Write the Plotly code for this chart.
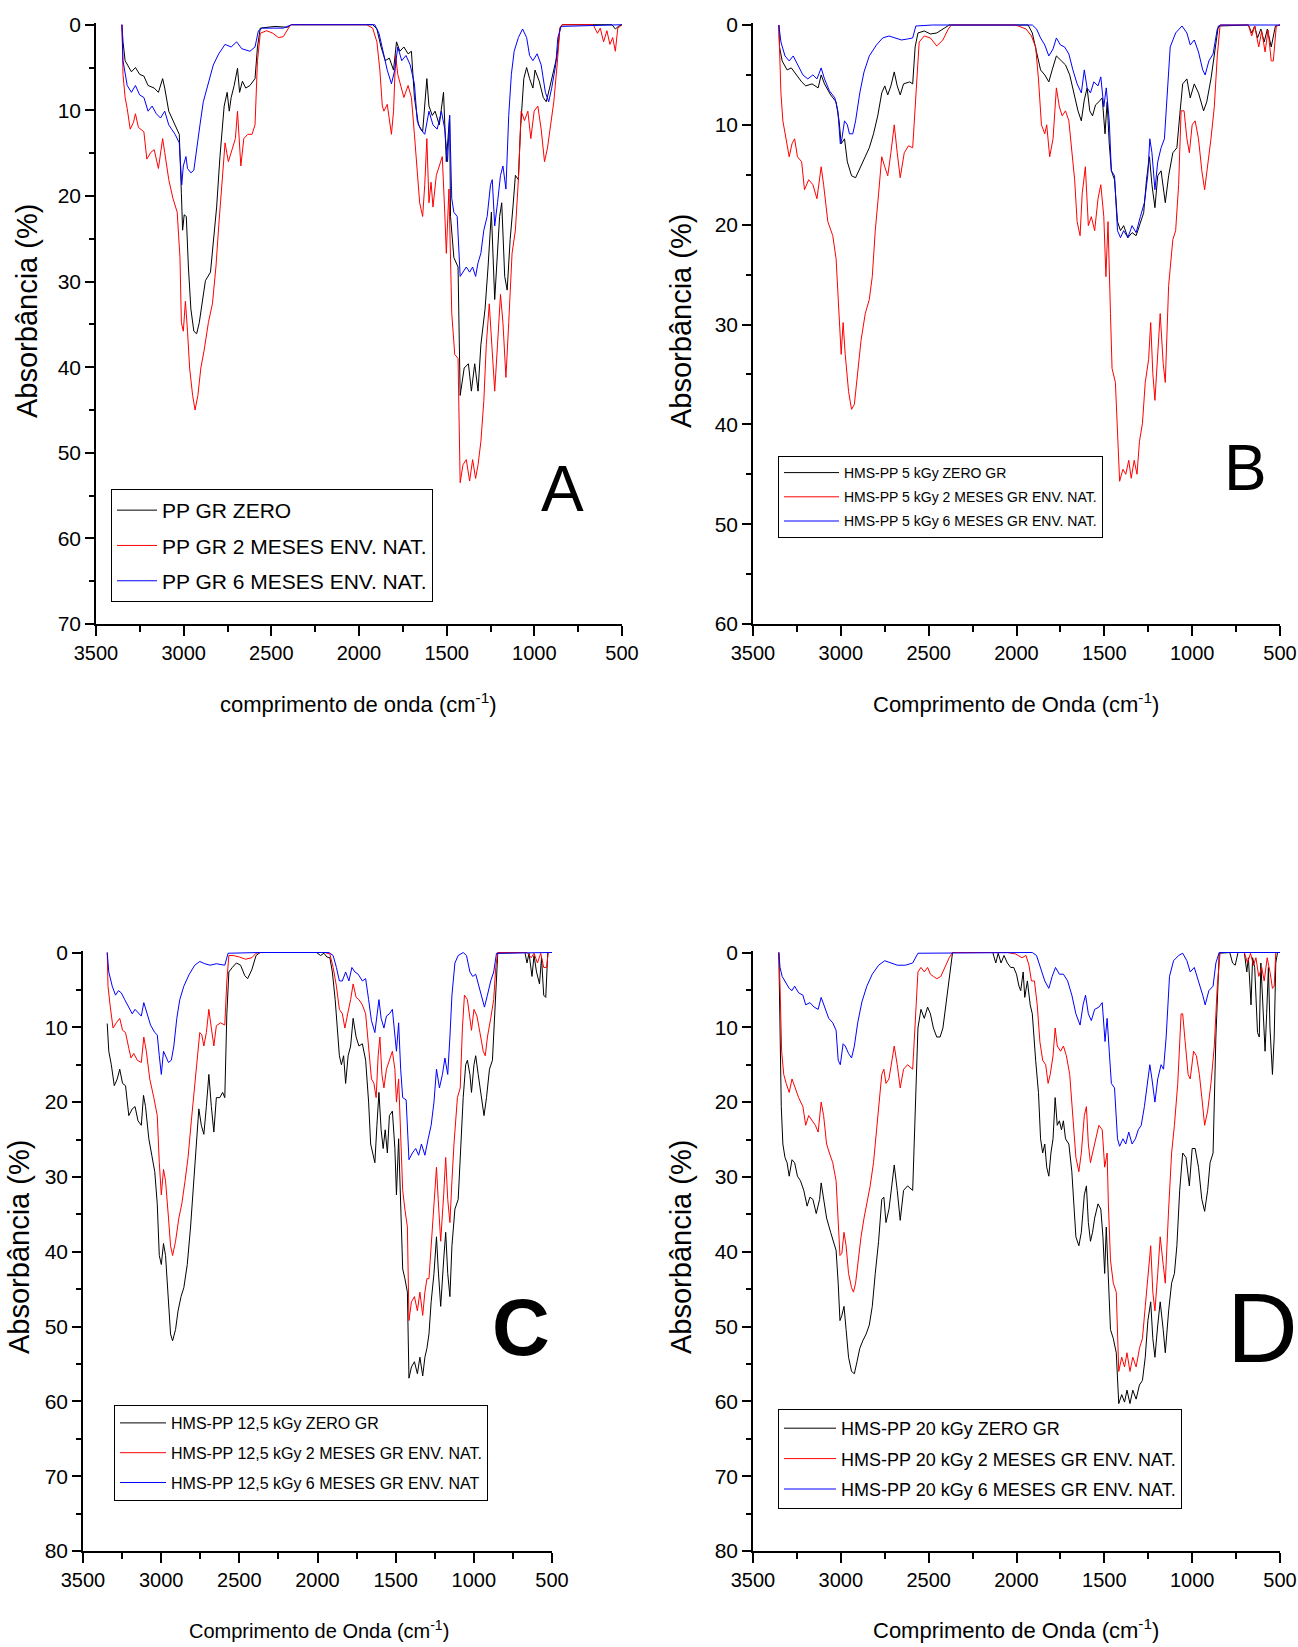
import plotly.graph_objects as go

# ---------------- DATA (wavenumber cm-1, absorbance %) ----------------
A_ZERO = [(3352,0),(3346,2),(3334,4.2),(3298,5.5),(3275,5),(3251,5.8),(3227,6),(3203,7.1),(3168,7.4),(3144,7.9),(3120,6.3),(3108,7.4),(3085,10.1),(3049,11.7),(3025,12.8),(3013,19.7),(3006,24),(2997,22.2),(2985,22.4),(2973,28.3),(2959,33.2),(2942,35.8),(2926,36.1),(2911,34.8),(2895,32.6),(2876,29.9),(2847,28.9),(2831,25.6),(2812,21.3),(2793,15.4),(2769,9.5),(2752,7.9),(2740,10.1),(2729,8.5),(2712,7.1),(2693,5.1),(2681,7.9),(2665,6.6),(2646,7.4),(2622,7.1),(2593,6.3),(2579,2.6),(2563,0.4),(2479,0.2),(2408,0.3),(2385,0),(1922,0),(1898,0.5),(1874,2.6),(1850,4.2),(1827,3.9),(1803,5.3),(1786,2),(1767,3.1),(1744,2.6),(1720,3.4),(1701,3.1),(1684,8.5),(1661,11.7),(1637,12.5),(1613,6.3),(1601,9.5),(1582,10.6),(1566,10.1),(1542,11.7),(1518,7.9),(1502,16),(1483,10.6),(1478,22.4),(1459,27.2),(1435,28.3),(1423,43.3),(1400,40.1),(1376,39.6),(1359,42.8),(1340,39.6),(1321,42.8),(1305,37.4),(1281,33.2),(1264,28.3),(1245,21.9),(1226,32.1),(1210,27.2),(1198,22.4),(1186,20.8),(1169,29.4),(1155,31),(1138,25.1),(1122,21.3),(1108,17.6),(1091,18.1),(1079,12.2),(1060,6.3),(1044,5),(1027,6.3),(1008,7.4),(996,5.3),(972,6.6),(949,8.5),(932,9),(913,7.4),(889,5.3),(870,3.6),(854,0.4),(842,0),(557,0),(538,0.5),(521,0.2),(500,0)]
A_2M = [(3352,0),(3346,5.8),(3334,8.5),(3322,9.8),(3305,12.2),(3286,11.4),(3275,10.4),(3258,12),(3227,12.5),(3210,15.7),(3187,14.9),(3168,14.6),(3144,16.8),(3120,13.3),(3108,14.9),(3085,18.1),(3061,20.3),(3037,21.9),(3021,27.2),(3013,34.8),(3002,35.8),(2990,32.3),(2978,35.8),(2966,40.1),(2949,43.3),(2935,45),(2919,43.3),(2902,40.1),(2883,38),(2859,34.8),(2836,32.6),(2816,28.3),(2800,23.5),(2783,18.7),(2764,13.8),(2745,16),(2729,14.9),(2705,13.3),(2693,10.1),(2674,16.5),(2657,13.3),(2634,12.8),(2610,12.8),(2593,11.7),(2579,4.2),(2563,1),(2527,0.7),(2491,1),(2460,1.5),(2432,1.4),(2396,0.2),(2385,0),(1957,0),(1922,0.4),(1898,2),(1881,5.3),(1867,9.5),(1858,10.1),(1839,9.3),(1827,11.2),(1815,12.8),(1803,10.1),(1791,3.6),(1779,5.8),(1763,6.9),(1744,8.5),(1720,7.1),(1701,8.5),(1684,12.8),(1668,17.6),(1654,20.8),(1637,22.4),(1625,18.7),(1613,13.3),(1601,20.8),(1589,18.4),(1578,21.3),(1559,17.6),(1542,16.5),(1525,15.4),(1511,21.9),(1502,26.7),(1487,19.2),(1471,33.7),(1454,38.5),(1435,39),(1423,53.5),(1407,51.4),(1388,50.8),(1369,53.3),(1352,50.8),(1335,53),(1321,51.4),(1305,48.7),(1288,43.9),(1274,37.4),(1257,32.6),(1240,38),(1226,42.8),(1210,37.4),(1193,31.5),(1179,34.8),(1162,41.2),(1146,34.8),(1127,26.7),(1108,24),(1091,18.1),(1075,10.1),(1056,11.2),(1037,10.1),(1020,13.3),(1001,10.1),(980,9.5),(961,12.2),(942,16),(925,14.4),(908,11.7),(889,9),(870,4.7),(854,0.4),(842,0),(664,0),(640,1),(624,0.4),(605,2),(586,0.7),(569,2.3),(553,1.5),(538,3.1),(524,0.4),(500,0)]
A_6M = [(3352,0),(3346,4.2),(3322,7.1),(3298,7.9),(3275,7.1),(3251,8.2),(3227,8.5),(3203,10.1),(3180,9.5),(3156,10.4),(3132,10.9),(3108,10.1),(3085,11.7),(3049,12.8),(3025,13.8),(3011,18.7),(3002,16.5),(2987,15.4),(2978,16.8),(2959,17.3),(2942,17),(2926,14.4),(2907,11.7),(2888,9),(2859,6.9),(2831,4.7),(2800,3.4),(2764,2.3),(2729,2.6),(2698,2),(2669,2.8),(2622,3.1),(2593,2.6),(2574,0.7),(2551,0.4),(2432,0.4),(2385,0),(1910,0),(1886,1),(1862,3.1),(1839,5.3),(1815,6.9),(1796,5.3),(1779,2.6),(1756,4.2),(1732,3.6),(1708,4.7),(1684,6.9),(1668,11.2),(1649,12.2),(1625,12.8),(1601,10.1),(1578,11.7),(1554,12.2),(1530,10.1),(1511,12.2),(1495,16),(1483,10.6),(1471,20.3),(1459,21.9),(1440,22.4),(1423,29.4),(1407,28.9),(1388,28.3),(1369,28.9),(1352,28.3),(1335,29.4),(1321,27.8),(1305,26.7),(1288,24),(1269,22.4),(1250,18.7),(1240,18.1),(1226,23.5),(1210,20.8),(1193,17.6),(1179,16.5),(1162,19.2),(1146,10.6),(1131,5.8),(1115,3.1),(1091,1.5),(1067,0.5),(1044,1.5),(1027,3.6),(1008,4.2),(984,3.4),(961,4.7),(937,7.9),(918,9),(901,7.4),(878,4.7),(866,1.5),(847,0.2),(500,0)]

B_ZERO = [(3353,0),(3349,2.2),(3334,3.6),(3306,4.5),(3282,4.3),(3254,5),(3223,5.7),(3200,6.1),(3164,5.9),(3129,6.3),(3112,5),(3093,5.9),(3058,7),(3027,7.7),(3010,9.6),(2998,11.9),(2979,11.4),(2963,13.7),(2939,15.1),(2916,15.3),(2892,14.4),(2868,13.5),(2838,12.3),(2814,10.9),(2790,9.1),(2767,6.8),(2750,6.1),(2733,7),(2715,6.1),(2696,4.7),(2679,6.1),(2662,7),(2643,5.9),(2608,5.7),(2591,5.9),(2577,2.2),(2561,0.8),(2525,0.6),(2490,0.9),(2454,0.8),(2419,0.4),(2383,0),(1934,0),(1910,0.8),(1886,2.7),(1863,4.5),(1839,5),(1816,5.7),(1797,4.5),(1773,3.1),(1744,3.6),(1721,4),(1697,5),(1673,6.8),(1650,8.6),(1631,9.6),(1614,7.5),(1598,6.3),(1583,8.6),(1567,9.1),(1550,8),(1531,7.7),(1512,7.3),(1496,10.9),(1484,7.7),(1472,11.9),(1460,14.6),(1442,15.5),(1425,19.7),(1408,20.6),(1390,20.1),(1366,21.3),(1342,20.8),(1319,21.1),(1295,19.7),(1276,18.8),(1260,15.5),(1243,13.2),(1229,16),(1212,18.3),(1196,15.1),(1177,14.6),(1153,17.8),(1134,15.1),(1110,12.8),(1087,12.3),(1071,9.1),(1054,5.9),(1030,5.4),(1011,7.3),(988,5.9),(964,6.8),(935,8.6),(917,7.7),(893,5.4),(870,2.2),(851,0.1),(680,0),(661,0.8),(644,0.1),(628,1.3),(609,0.4),(590,1.7),(572,0.4),(550,2.2),(526,0.1),(500,0)]
B_2M = [(3353,0),(3341,6.8),(3330,9.6),(3311,11.4),(3294,13.2),(3278,11.9),(3263,11.4),(3247,13.2),(3223,13.7),(3207,16.5),(3183,15.5),(3159,16),(3136,17.4),(3112,14.2),(3098,16),(3074,19.7),(3046,21.1),(3027,23.4),(3010,28.9),(2998,33),(2987,29.8),(2975,33),(2956,36.7),(2939,38.5),(2923,38),(2904,34.4),(2885,31.6),(2861,28.9),(2838,27.5),(2821,25.2),(2804,20.6),(2785,16.9),(2767,13.2),(2750,14.2),(2733,15.1),(2715,12.8),(2696,10),(2679,12.8),(2662,15.3),(2639,12.8),(2615,12.1),(2591,12.3),(2573,6.8),(2554,1.7),(2525,1.1),(2490,1.3),(2454,2.1),(2419,1.5),(2388,0.4),(2371,0),(2005,0),(1946,0.4),(1915,1.1),(1891,2.2),(1875,5.4),(1858,10),(1839,10.9),(1828,10),(1811,13.2),(1792,11.4),(1773,6.3),(1756,8.2),(1740,9.1),(1721,8.6),(1702,9.6),(1685,12.3),(1669,15.5),(1655,19.7),(1638,21.1),(1626,16.9),(1608,14.2),(1591,20.1),(1574,19.2),(1555,20.6),(1536,17.4),(1520,16),(1503,19.2),(1491,25.2),(1479,19.7),(1465,28.9),(1456,34.4),(1437,35.8),(1425,41.3),(1413,45.7),(1394,44.5),(1378,45),(1361,43.6),(1347,45.4),(1330,43.6),(1314,45),(1300,41.7),(1283,39.9),(1267,35.8),(1248,33.5),(1236,29.8),(1224,34.9),(1212,37.6),(1196,33),(1182,28.9),(1165,33.9),(1153,35.8),(1134,26.1),(1110,21.5),(1094,20.6),(1077,16),(1063,8.6),(1046,8.6),(1030,11.4),(1016,12.8),(1000,10),(983,9.6),(964,11.4),(945,14.6),(929,16.5),(912,14.2),(893,11.4),(874,8.2),(857,3.1),(841,0),(680,0),(661,1.1),(644,0.1),(621,2.2),(604,0.6),(585,2.7),(568,0.5),(550,3.6),(538,3.6),(521,0.1),(500,0)]
B_6M = [(3353,0),(3341,1.7),(3318,3.1),(3294,3.6),(3271,3.1),(3247,4),(3216,5),(3188,5.4),(3159,5),(3136,5.4),(3112,4.3),(3093,5.4),(3065,6.6),(3034,7.3),(3017,8.6),(3003,11.9),(2994,11.4),(2979,9.6),(2963,10),(2951,10.9),(2932,10.9),(2916,9.6),(2892,6.8),(2868,4.7),(2838,3.1),(2797,2),(2762,1.3),(2726,1.1),(2691,1.3),(2655,1.5),(2620,1.4),(2591,1.3),(2573,0.1),(2478,0),(1910,0),(1886,0.4),(1863,1.3),(1839,2),(1816,3.1),(1792,2.4),(1773,1.3),(1750,2),(1726,2.2),(1702,2.9),(1679,4.5),(1655,5.9),(1631,6.8),(1614,4.5),(1598,6.3),(1579,6.8),(1560,5.7),(1536,6.1),(1520,5.2),(1503,8.2),(1489,6.3),(1472,9.6),(1460,14.6),(1442,15.1),(1425,20.6),(1408,21.3),(1390,20.6),(1366,21.3),(1342,20.1),(1319,20.8),(1295,19.2),(1272,17.8),(1253,15.1),(1241,11.4),(1229,12.8),(1212,16.5),(1196,13.7),(1177,12.3),(1158,11.4),(1141,6.8),(1125,2.2),(1094,0.8),(1058,0.1),(1030,0.8),(1011,2),(988,1.5),(964,2.7),(940,4.5),(926,5),(905,3.6),(881,2.9),(857,0.4),(841,0),(500,0)]

C_ZERO = [(3345,9.5),(3335,13.2),(3319,15),(3300,17.8),(3281,16.9),(3265,15.6),(3247,17.5),(3228,17.8),(3207,21.8),(3185,20.9),(3167,20.6),(3148,22.5),(3127,23.1),(3113,19.1),(3100,20.6),(3079,24.9),(3060,27.1),(3041,29.3),(3025,33.6),(3012,40.5),(2999,41.7),(2985,38.9),(2972,40.5),(2953,46.7),(2940,51),(2927,51.9),(2908,50.4),(2892,47.9),(2873,46),(2855,44.8),(2833,41.7),(2812,36.7),(2793,30.5),(2775,25.6),(2759,20.9),(2743,23.1),(2727,24.3),(2711,20.6),(2695,16.3),(2679,20.6),(2663,24),(2647,19.4),(2625,19.4),(2607,18.7),(2593,19.4),(2580,8.2),(2567,2.6),(2545,2),(2519,1.4),(2492,1.7),(2465,3.1),(2447,3.5),(2420,2.3),(2393,0.4),(2367,0),(2007,0),(1980,0.4),(1959,0.1),(1940,0.6),(1921,0.7),(1905,2.6),(1887,6.3),(1873,10.7),(1860,13.8),(1847,15),(1833,13.8),(1820,17.5),(1804,13.8),(1788,12.5),(1772,8.8),(1753,11.3),(1735,12.5),(1713,12.2),(1692,14.4),(1673,20),(1660,25.6),(1647,26.8),(1633,28.1),(1620,23.1),(1607,18.7),(1593,23.7),(1580,26.2),(1567,23.7),(1553,26.8),(1540,21.8),(1521,21.2),(1505,26.2),(1495,32.4),(1481,24.9),(1468,34.3),(1455,42.3),(1441,43.6),(1425,45.4),(1415,56.9),(1399,55.4),(1380,54.7),(1361,56.3),(1345,54.1),(1327,56.6),(1313,54.1),(1300,52.9),(1287,51),(1273,46.7),(1255,42.9),(1239,38),(1228,42.3),(1212,47.3),(1193,41.1),(1180,37.4),(1167,42.9),(1153,46),(1140,39.2),(1121,34.3),(1100,33),(1087,26.8),(1068,19.4),(1052,15),(1041,14.4),(1025,16.3),(1015,18.7),(999,15),(988,13.8),(972,16.3),(953,19.4),(935,21.8),(919,19.4),(900,15.6),(881,14.4),(865,7),(847,0.1),(673,0),(660,1.4),(647,0.1),(628,3.2),(615,0.4),(599,2.6),(580,4.2),(567,0.7),(553,5.7),(540,6),(527,0),(500,0)]
C_2M = [(3345,0),(3340,4.5),(3327,7),(3308,10.1),(3287,9.4),(3265,8.8),(3247,10.4),(3228,10.7),(3207,12.8),(3193,14.1),(3175,13.5),(3153,14.4),(3127,14.7),(3111,11.3),(3095,13.2),(3073,16.9),(3047,19.4),(3025,21.8),(3012,28.1),(2999,32.4),(2985,29),(2972,30.5),(2953,35.5),(2940,39.2),(2927,40.5),(2908,38.6),(2887,35.5),(2868,33.6),(2847,30.5),(2828,27.4),(2807,22.5),(2785,17.5),(2767,13.8),(2753,10.7),(2740,11),(2727,12.5),(2711,10.7),(2695,7.6),(2679,10.1),(2663,12.5),(2647,9.8),(2620,9.4),(2593,9.7),(2580,3.8),(2567,0.4),(2540,0.4),(2500,0.6),(2460,0.9),(2420,0.7),(2393,0.1),(2367,0),(1953,0),(1921,0.2),(1900,2),(1879,4.5),(1860,7.6),(1841,8.2),(1825,10.1),(1807,8.2),(1788,6.3),(1772,4.2),(1753,6),(1735,6.3),(1713,7),(1692,8.2),(1673,13.2),(1655,16.9),(1639,17.5),(1625,19.4),(1612,13.8),(1601,11.3),(1588,16.3),(1575,18.1),(1559,15.6),(1540,14.4),(1521,13.2),(1505,15.6),(1495,20),(1481,16.9),(1468,24.3),(1455,31.8),(1441,34.3),(1425,36.7),(1415,49.2),(1399,46.7),(1380,46),(1361,47.9),(1345,45.4),(1327,48.5),(1313,45.4),(1300,43.6),(1287,43.6),(1273,39.2),(1255,34.3),(1239,28.7),(1228,33),(1212,38.6),(1193,32.4),(1180,27.4),(1167,33),(1153,36.1),(1140,30.5),(1127,25.6),(1105,19.4),(1087,18.1),(1073,10.1),(1060,5.7),(1041,6.3),(1025,8.8),(1015,10.4),(999,7.6),(980,8.5),(961,10.7),(940,13.2),(927,13.8),(913,11.3),(892,8.8),(873,6.3),(860,2),(847,0),(660,0),(633,0.7),(615,0.1),(593,1.4),(572,0.1),(553,2),(535,2),(524,0),(500,0)]
C_6M = [(3345,0),(3335,2.6),(3313,4.5),(3292,5.7),(3273,5.1),(3255,5.4),(3233,6.3),(3207,7.3),(3185,8.2),(3167,7.6),(3140,8.2),(3127,8.5),(3111,6.7),(3095,7.9),(3068,9.7),(3041,10.7),(3025,11),(3012,13.8),(2999,16.3),(2985,13.2),(2972,13.8),(2953,14.7),(2935,14.4),(2919,12.5),(2900,8.8),(2881,6.3),(2855,4.5),(2820,2.9),(2785,1.7),(2753,1.2),(2721,1.5),(2687,1.7),(2647,1.5),(2593,1.7),(2572,0.1),(2367,0),(1927,0),(1900,0.4),(1879,2),(1860,3.8),(1841,3.8),(1820,2.6),(1799,3.8),(1780,2),(1761,2.6),(1740,2.9),(1713,3.8),(1692,3.5),(1673,6.3),(1655,9.1),(1633,10.7),(1620,8.2),(1607,6.3),(1593,8.8),(1575,10.1),(1559,8.5),(1540,8.2),(1521,7.6),(1505,10.7),(1495,13.2),(1481,9.4),(1468,15.6),(1455,19.4),(1433,19.7),(1415,27.7),(1393,26.8),(1372,26.2),(1353,27.1),(1335,25.6),(1313,27.1),(1292,24.9),(1273,23.1),(1255,20),(1239,15.6),(1220,18.1),(1201,16.3),(1185,14.1),(1167,16.3),(1153,11.3),(1140,5.7),(1121,1.4),(1100,0.4),(1068,0),(1047,0.4),(1025,2.6),(1007,3.2),(988,2.9),(967,4.5),(945,6.3),(932,7.3),(913,5.7),(892,3.8),(873,2.6),(855,0.1),(500,0)]

D_ZERO = [(3353,0),(3346,8.2),(3339,20.6),(3330,25.6),(3318,27.4),(3306,28.1),(3294,29.9),(3278,27.7),(3263,28.1),(3247,29.9),(3230,30.5),(3211,31.8),(3192,33.9),(3176,32.7),(3159,33),(3140,34.9),(3121,33),(3112,30.8),(3098,33),(3081,35.5),(3058,37.4),(3041,38.6),(3027,39.8),(3015,44.2),(3005,49.2),(2994,48.5),(2982,47.3),(2970,50.4),(2956,54.1),(2939,56),(2923,56.3),(2908,54.7),(2892,52.9),(2875,51.9),(2856,51),(2838,49.8),(2821,47.3),(2804,42.9),(2785,38.6),(2767,33),(2755,32.7),(2743,36.1),(2726,34.3),(2710,31.2),(2696,28.4),(2679,31.8),(2662,35.8),(2643,31.8),(2620,31.2),(2591,31.8),(2577,21.8),(2561,10.1),(2544,7.6),(2525,8.8),(2506,7.3),(2490,8.2),(2473,10.1),(2454,11.3),(2435,11.3),(2419,10.1),(2402,7),(2383,3.8),(2364,0),(2135,0),(2118,1.4),(2104,0.1),(2088,1.4),(2071,0.4),(2052,1.4),(2033,2),(2016,2),(2000,2.9),(1986,4.5),(1976,5.1),(1962,2.6),(1953,6),(1938,3.8),(1922,7),(1910,8.2),(1891,14.4),(1875,18.7),(1863,24.9),(1851,26.8),(1839,25.6),(1828,28.7),(1816,29.9),(1804,26.8),(1792,24.9),(1780,19.4),(1768,23.1),(1756,22.5),(1744,23.7),(1733,22.5),(1721,24.9),(1702,25.6),(1685,29.3),(1673,33.6),(1662,38),(1645,39.2),(1631,37.4),(1614,32.4),(1602,31.2),(1591,36.1),(1579,38.6),(1567,37.4),(1555,35.5),(1536,33.6),(1520,34.3),(1508,38),(1498,42.9),(1489,36.7),(1477,44.2),(1465,50.4),(1449,51.6),(1432,53.5),(1418,60.3),(1401,59.1),(1385,60.1),(1371,58.5),(1354,60.3),(1338,58.5),(1319,59.7),(1300,57.8),(1283,57.2),(1267,54.1),(1252,49.2),(1236,46.7),(1224,51.6),(1212,54.1),(1196,49.8),(1182,46.7),(1165,50.4),(1153,53.5),(1134,47.9),(1117,44.2),(1101,42.9),(1087,39.2),(1071,31.8),(1054,26.8),(1035,27.4),(1016,31.2),(1000,26.2),(983,26.2),(964,28.7),(945,33),(929,34.6),(912,31.8),(898,28.1),(881,26.8),(865,11.3),(846,0.1),(786,0),(770,1.4),(755,1.7),(739,0),(703,0),(689,2.6),(680,0.7),(665,7),(656,0.7),(644,2),(628,10.7),(618,11.3),(609,1.4),(595,8.2),(585,13.2),(576,8.2),(566,2),(557,10.1),(543,16.3),(533,11.3),(524,1.4),(514,0),(500,0)]
D_2M = [(3353,0),(3346,4.5),(3337,13.2),(3325,16.3),(3311,17.5),(3294,18.7),(3278,16.9),(3259,18.1),(3240,19.4),(3216,20.6),(3200,23.1),(3183,21.8),(3164,22.5),(3145,23.1),(3129,24),(3112,20),(3098,21.8),(3081,25.6),(3065,26.8),(3046,28.1),(3027,30.5),(3017,34.9),(3005,40.5),(2994,40.2),(2982,37.4),(2970,39.2),(2956,42.9),(2939,44.8),(2928,45.4),(2916,44.2),(2899,40.5),(2885,38),(2868,35.5),(2852,33.6),(2833,31.2),(2814,28.1),(2797,23.7),(2781,19.4),(2767,16.3),(2755,15.6),(2743,17.5),(2726,16.9),(2710,14.4),(2696,12.5),(2679,15),(2662,18.1),(2643,15.6),(2620,15),(2591,15.6),(2577,10.1),(2561,2.6),(2544,2),(2525,2.6),(2506,2),(2490,2.9),(2473,3.2),(2454,3.5),(2431,3.2),(2407,2),(2383,0.7),(2364,0),(2052,0),(2005,0.2),(1969,0.7),(1946,0.4),(1929,1.7),(1915,3.8),(1898,3.8),(1882,7),(1867,11.9),(1851,14.4),(1834,15),(1820,17.5),(1808,16.3),(1792,13.8),(1780,10.1),(1768,12.5),(1749,13.2),(1733,12.5),(1716,13.8),(1697,16.3),(1678,22.5),(1662,27.4),(1645,29.3),(1631,26.8),(1614,21.8),(1602,20.6),(1591,25.6),(1579,28.1),(1567,26.8),(1550,24.9),(1531,23.1),(1512,23.7),(1498,28.7),(1484,26.8),(1477,33.6),(1465,41.1),(1449,44.2),(1432,45.4),(1418,56),(1401,54.1),(1385,55.4),(1371,53.5),(1354,56),(1338,54.1),(1319,55.4),(1300,52.9),(1283,51.6),(1267,47.3),(1252,43.6),(1236,39.2),(1224,45.4),(1212,47.9),(1196,42.9),(1182,38),(1165,41.7),(1153,44.2),(1134,34.3),(1117,26.8),(1101,23.1),(1082,17.5),(1063,8.2),(1054,8.2),(1040,11.9),(1023,16.3),(1011,16.9),(992,13.2),(976,13.8),(959,16.3),(945,19.4),(929,23.1),(912,21.2),(893,17.5),(874,12.5),(857,4.5),(841,0),(703,0),(685,1.4),(668,0.1),(651,1.7),(637,0.7),(621,3.2),(604,2),(590,3.8),(573,0.7),(557,2.6),(543,4.8),(533,4.5),(524,0),(500,0)]
D_6M = [(3353,0),(3346,2),(3334,3.2),(3318,3.8),(3294,4.8),(3278,5.1),(3263,4.5),(3240,5.4),(3216,5.7),(3200,7),(3176,6.7),(3152,7.3),(3129,7.6),(3112,6),(3093,7.3),(3069,8.8),(3046,9.4),(3027,10.4),(3015,14.4),(3003,15),(2987,12.2),(2975,12.5),(2956,13.5),(2939,14.1),(2923,12.5),(2904,9.4),(2880,6.6),(2852,4.5),(2821,2.9),(2785,1.7),(2750,1.1),(2715,1.4),(2679,1.7),(2632,1.7),(2591,1.4),(2561,0.1),(2431,0.1),(2364,0),(1910,0),(1886,0.4),(1863,2),(1839,3.8),(1816,4.8),(1797,3.2),(1778,2),(1756,2.9),(1733,2.9),(1709,3.8),(1685,5.7),(1662,8.2),(1638,9.7),(1621,7),(1607,5.7),(1591,8.2),(1574,9.1),(1555,7.6),(1531,7.3),(1512,6.7),(1496,11.9),(1484,8.8),(1472,13.2),(1460,17.5),(1442,18.1),(1425,24.9),(1413,25.9),(1394,24.9),(1378,25.6),(1361,24),(1342,25.6),(1323,24.9),(1307,23.7),(1290,23.1),(1272,20.6),(1253,17.5),(1241,15),(1229,16.9),(1212,20),(1196,16.9),(1177,15),(1163,15.6),(1148,11.3),(1129,3.2),(1106,1.1),(1077,0.4),(1054,0.1),(1030,1.1),(1011,2.6),(988,2),(964,3.8),(940,5.7),(926,7),(905,5.1),(881,4.5),(865,1.4),(846,0),(500,0)]

NAMES_A = ["PP GR ZERO", "PP GR 2 MESES ENV. NAT.", "PP GR 6 MESES ENV. NAT."]
NAMES_B = ["HMS-PP 5 kGy ZERO GR", "HMS-PP 5 kGy 2 MESES GR ENV. NAT.", "HMS-PP 5 kGy 6 MESES GR ENV. NAT."]
NAMES_C = ["HMS-PP 12,5 kGy ZERO GR", "HMS-PP 12,5 kGy 2 MESES GR ENV. NAT.", "HMS-PP 12,5 kGy 6 MESES GR ENV. NAT"]
NAMES_D = ["HMS-PP 20 kGy ZERO GR", "HMS-PP 20 kGy 2 MESES GR ENV. NAT.", "HMS-PP 20 kGy 6 MESES GR ENV. NAT."]
PANEL_LETTERS = ["A", "B", "C", "D"]
Y_MAX = [70, 60, 80, 80]
X_TICKS = [3500, 3000, 2500, 2000, 1500, 1000, 500]

# ---------------- FIGURE ----------------
W, H = 1298, 1647
COLORS = ["#000000", "#ff0000", "#0000ff"]
FONT = "Liberation Sans, Arial, sans-serif"

def px_x(v):
    return v / W

def px_y(v):
    return 1 - v / H

# plot areas in pixels: (left, right, top, bottom)
AREAS = [(96, 622, 23, 624), (753, 1280, 23, 624), (83, 552, 951, 1551), (753, 1280, 951, 1551)]

fig = go.Figure()
panels = [(A_ZERO, A_2M, A_6M, NAMES_A), (B_ZERO, B_2M, B_6M, NAMES_B),
          (C_ZERO, C_2M, C_6M, NAMES_C), (D_ZERO, D_2M, D_6M, NAMES_D)]
legend_keys = ["legend", "legend2", "legend3", "legend4"]

for i, (s0, s2, s6, names) in enumerate(panels):
    xr = "x" if i == 0 else f"x{i+1}"
    yr = "y" if i == 0 else f"y{i+1}"
    for j, (series, name, col) in enumerate(zip((s0, s2, s6), names, COLORS)):
        fig.add_trace(go.Scatter(
            x=[p[0] for p in series], y=[p[1] for p in series],
            mode="lines", name=name, line=dict(color=col, width=1),
            xaxis=xr, yaxis=yr, legend=legend_keys[i],
            legendgroup=f"g{i}{j}", hoverinfo="skip"))

layout = dict(width=W, height=H, margin=dict(l=0, r=0, t=0, b=0, autoexpand=False),
              paper_bgcolor="white", plot_bgcolor="white", showlegend=True)

for i, (l, r, t, b) in enumerate(AREAS):
    xk = "xaxis" if i == 0 else f"xaxis{i+1}"
    yk = "yaxis" if i == 0 else f"yaxis{i+1}"
    xa = "x" if i == 0 else f"x{i+1}"
    ya = "y" if i == 0 else f"y{i+1}"
    layout[xk] = dict(domain=[px_x(l), px_x(r)], anchor=ya, range=[3500, 500], automargin=False,
                      tickmode="array", tickvals=X_TICKS, ticktext=[str(v) for v in X_TICKS],
                      ticks="outside", ticklen=10, tickwidth=1.5, tickcolor="black",
                      minor=dict(tickvals=[3250, 2750, 2250, 1750, 1250, 750], ticks="outside",
                                 ticklen=6, tickwidth=1.5, tickcolor="black"),
                      showline=True, linecolor="black", linewidth=1.5,
                      showgrid=False, zeroline=False,
                      tickfont=dict(family=FONT, size=20, color="black"))
    layout[yk] = dict(domain=[px_y(b), px_y(t)], anchor=xa, range=[Y_MAX[i], -0.2], automargin=False,
                      tickmode="linear", tick0=0, dtick=10,
                      ticks="outside", ticklen=9, tickwidth=1.5, tickcolor="black",
                      minor=dict(dtick=5, tick0=0, ticks="outside", ticklen=5,
                                 tickwidth=1.5, tickcolor="black"),
                      showline=True, linecolor="black", linewidth=1.5,
                      showgrid=False, zeroline=False,
                      tickfont=dict(family=FONT, size=21, color="black"))

# legend: (left px, top px, font size, item width, gap)
LEG_POS = [(111, 489, 21, 40, 5), (778, 456, 14, 55, 3), (114, 1405, 16, 46, 6), (778, 1409, 18, 52, 4)]
for i, (lx, ly, fs, iw, gap) in enumerate(LEG_POS):
    layout[legend_keys[i]] = dict(x=px_x(lx), y=px_y(ly), xanchor="left", yanchor="top",
                                  bgcolor="white", bordercolor="black", borderwidth=1,
                                  font=dict(family=FONT, size=fs, color="black"),
                                  itemwidth=iw, tracegroupgap=gap)

fig.update_layout(**layout)

# axis titles (y)
Y_TITLE_POS = [(27, 311), (681, 321), (19, 1247), (681, 1247)]
for (tx, ty) in Y_TITLE_POS:
    fig.add_annotation(text="Absorbância (%)", x=px_x(tx), y=px_y(ty), xref="paper", yref="paper",
                       textangle=-90, showarrow=False, xanchor="center", yanchor="middle",
                       font=dict(family=FONT, size=29, color="black"))

X_TITLES = ["comprimento de onda (cm<sup>-1</sup>)", "Comprimento de Onda (cm<sup>-1</sup>)",
            "Comprimento de Onda (cm<sup>-1</sup>)", "Comprimento de Onda (cm<sup>-1</sup>)"]
X_TITLE_POS = [(358, 703, 22), (1016, 703, 22), (319, 1629, 20), (1016, 1629, 22)]
for txt, (tx, ty, fs) in zip(X_TITLES, X_TITLE_POS):
    fig.add_annotation(text=txt, x=px_x(tx), y=px_y(ty), xref="paper", yref="paper",
                       showarrow=False, xanchor="center", yanchor="middle",
                       font=dict(family=FONT, size=fs, color="black"))

LETTER_POS = [(562, 489, 64), (1245, 468, 64), (521, 1327, 80), (1262, 1328, 98)]
for letter, (tx, ty, fs) in zip(PANEL_LETTERS, LETTER_POS):
    txt = f"<b>{letter}</b>" if letter == "C" else letter
    fig.add_annotation(text=txt, x=px_x(tx), y=px_y(ty), xref="paper", yref="paper",
                       showarrow=False, xanchor="center", yanchor="middle",
                       font=dict(family=FONT, size=fs, color="black"))

# remove the default page margin so the figure fills the window exactly
POST_JS = ("document.body.style.margin='0';document.body.style.padding='0';"
           "document.documentElement.style.overflow='hidden';")
fig.write_html("out.html", post_script=POST_JS, config={"displayModeBar": False})
